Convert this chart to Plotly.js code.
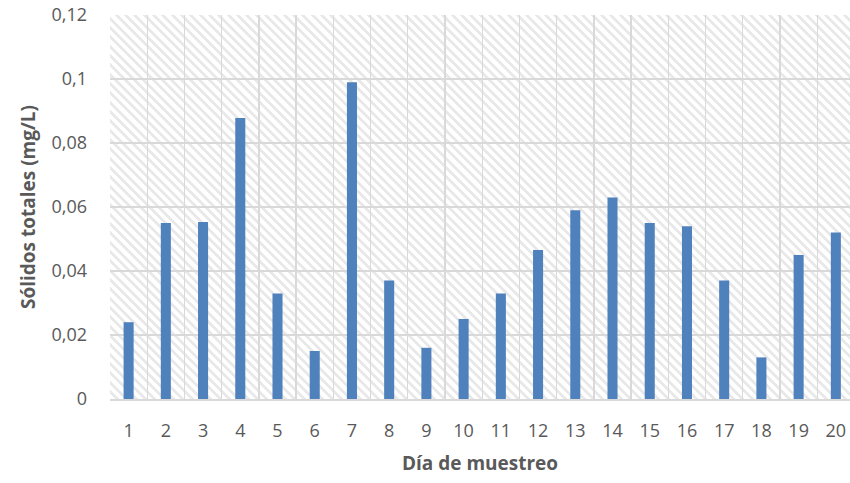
<!DOCTYPE html>
<html>
<head>
<meta charset="utf-8">
<script src="https://cdn.plot.ly/plotly-3.0.1.min.js"></script>
<style>
  html, body { margin: 0; padding: 0; background: #ffffff; }
  #wrap { position: relative; width: 850px; height: 483px; overflow: hidden; }
  #hatch {
    position: absolute;
    background: repeating-linear-gradient(45deg, #ffffff 0px, #ffffff 3.8px, #e9e9e9 3.8px, #e9e9e9 6.6px);
  }
  #chart { position: absolute; left: 0; top: 0; width: 850px; height: 483px; }
</style>
</head>
<body>
<div id="wrap">
  <div id="hatch"></div>
  <div id="chart"></div>
</div>
<script>
// Sampling days and total solids measured on each day
const dias = ['1','2','3','4','5','6','7','8','9','10','11','12','13','14','15','16','17','18','19','20'];
const solidosTotales = [0.024, 0.055, 0.0553, 0.0878, 0.033, 0.015, 0.099, 0.037, 0.016, 0.025,
                        0.033, 0.0466, 0.059, 0.063, 0.055, 0.054, 0.037, 0.013, 0.045, 0.052];
const yTicks = [0, 0.02, 0.04, 0.06, 0.08, 0.1, 0.12];
const yTickText = ['0', '0,02', '0,04', '0,06', '0,08', '0,1', '0,12'];

const gridColor = '#d9d9d9';
const textColor = '#595959';
const font = 'Open Sans, sans-serif';

const trace = {
  type: 'bar',
  x: dias,
  y: solidosTotales,
  marker: { color: '#4f81bd' },
  hoverinfo: 'x+y'
};

const layout = {
  width: 850,
  height: 483,
  margin: { l: 110, r: 0, t: 15, b: 84 },
  paper_bgcolor: 'rgba(0,0,0,0)',
  plot_bgcolor: 'rgba(0,0,0,0)',
  bargap: 0.73,
  showlegend: false,
  font: { family: font, color: textColor },
  xaxis: {
    type: 'category',
    range: [-0.5, 19.38],
    tickson: 'boundaries',
    showgrid: true,
    gridcolor: gridColor,
    gridwidth: 1.3,
    ticks: '',
    ticklabelstandoff: 14,
    tickfont: { size: 18, color: textColor, family: font },
    showline: true,
    linecolor: gridColor,
    linewidth: 2,
    title: { text: '<b>Día de muestreo</b>', font: { size: 19, color: textColor, family: font }, standoff: 16 },
    fixedrange: true
  },
  yaxis: {
    range: [0, 0.12],
    tickvals: yTicks,
    ticktext: yTickText,
    showgrid: true,
    gridcolor: gridColor,
    gridwidth: 1.3,
    zeroline: false,
    ticks: '',
    ticklabelstandoff: 22,
    tickfont: { size: 18, color: textColor, family: font },
    title: { text: '<b>Sólidos totales (mg/L)</b>', font: { size: 19, color: textColor, family: font }, standoff: 10 },
    fixedrange: true
  }
};

Plotly.newPlot('chart', [trace], layout, { displayModeBar: false, staticPlot: true }).then(function (gd) {
  // place the diagonal-hatch fill exactly under the plotting area
  const s = gd._fullLayout._size;
  const h = document.getElementById('hatch');
  h.style.left = s.l + 'px';
  h.style.top = s.t + 'px';
  h.style.width = s.w + 'px';
  h.style.height = s.h + 'px';
});
</script>
</body>
</html>
